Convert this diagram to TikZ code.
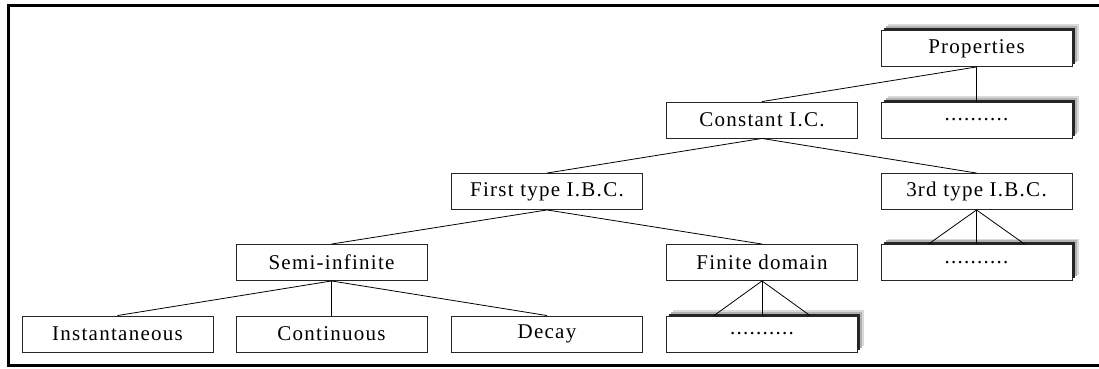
\documentclass[tikz,border=0pt]{standalone}
\usepackage{fontspec}
\setmainfont{Liberation Serif}[LetterSpace=6]
\usetikzlibrary{shadows}
\begin{document}
\begin{tikzpicture}[x=1pt,y=-1pt,
  box/.style={draw=black!85, line width=0.9pt, fill=white,
    minimum width=191pt, minimum height=36pt, inner sep=0pt,
    font=\fontsize{21}{24}\selectfont},
  raised/.style={box,
    general shadow={fill=gray!30, shadow xshift=6.5pt, shadow yshift=6pt},
    general shadow={fill=gray!60, shadow xshift=4.5pt, shadow yshift=4.5pt},
    general shadow={fill=black!85, shadow xshift=2.5pt, shadow yshift=2.5pt}},
  link/.style={draw=black, line width=0.8pt},
  frame/.style={draw=black, line width=3pt}]
\useasboundingbox (0,0) rectangle (1099,369);

% outer frame, open on the right
\draw[frame] (1104,6) -- (8,6) -- (8,365) -- (1104,365);

% tree nodes, one column every 215pt, one row every 71.5pt
\node[raised] (prop)   at (976.5,48.5) {Properties};
\node[raised] (dotsA)  at (976.5,120)  {..........};
\node[box]    (const)  at (762,120)    {Constant I.C.};
\node[box]    (first)  at (547,191.5)  {First type I.B.C.};
\node[box]    (third)  at (976.5,191.5){3rd type I.B.C.};
\node[box]    (semi)   at (331.5,262.5){Semi-infinite};
\node[box]    (finite) at (762,262.5)  {Finite domain};
\node[raised] (dotsB)  at (976.5,262.5){..........};
\node[box]    (inst)   at (117.5,334)  {Instantaneous};
\node[box]    (cont)   at (331.5,334)  {Continuous};
\node[box]    (decay)  at (547,334)    {Decay};
\node[raised] (dotsC)  at (762,334)    {..........};

% connectors
\draw[link] (prop.south) -- (const.north);
\draw[link] (prop.south) -- (dotsA.north);
\draw[link] (const.south) -- (first.north);
\draw[link] (const.south) -- (third.north);
\draw[link] (first.south) -- (semi.north);
\draw[link] (first.south) -- (finite.north);
\draw[link] (semi.south) -- (inst.north);
\draw[link] (semi.south) -- (cont.north);
\draw[link] (semi.south) -- (decay.north);
\draw[link] (finite.south) -- ([xshift=-48pt]dotsC.north);
\draw[link] (finite.south) -- (dotsC.north);
\draw[link] (finite.south) -- ([xshift=48pt]dotsC.north);
\draw[link] (third.south) -- ([xshift=-48pt]dotsB.north);
\draw[link] (third.south) -- (dotsB.north);
\draw[link] (third.south) -- ([xshift=48pt]dotsB.north);
\end{tikzpicture}
\end{document}
